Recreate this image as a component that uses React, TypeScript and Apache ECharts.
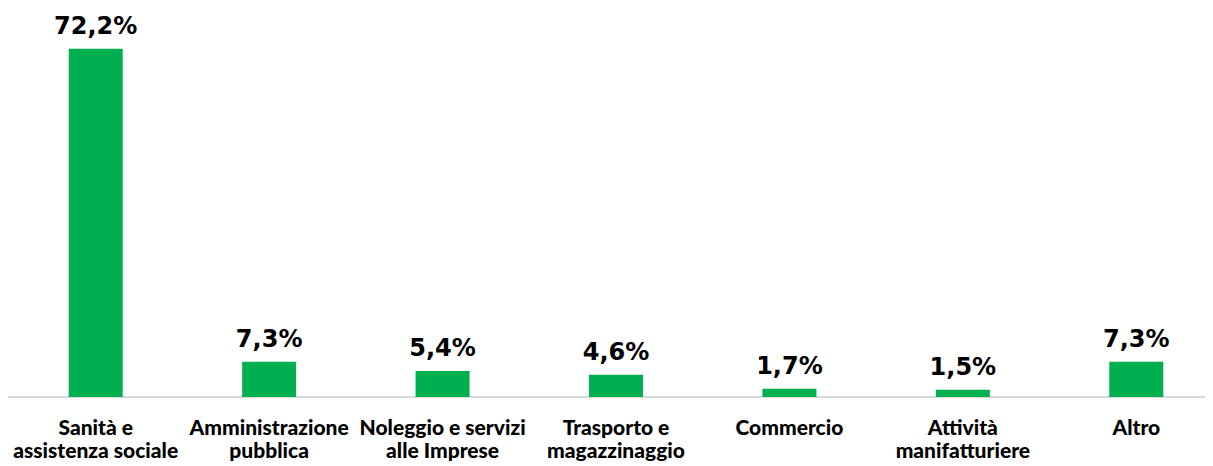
import React, { useEffect, useRef } from "react";
import * as echarts from "echarts";

const categories = [
  "Sanità e\nassistenza sociale",
  "Amministrazione\npubblica",
  "Noleggio e servizi\nalle Imprese",
  "Trasporto e\nmagazzinaggio",
  "Commercio",
  "Attività\nmanifatturiere",
  "Altro",
];
const values = [72.2, 7.3, 5.4, 4.6, 1.7, 1.5, 7.3];

export default function App() {
  const ref = useRef<HTMLDivElement>(null);
  useEffect(() => {
    if (!ref.current) return;
    const chart = echarts.init(ref.current, null, { renderer: "svg" });
    chart.setOption({
      animation: false,
      grid: { left: 9, right: 17, top: 11, bottom: 69, containLabel: false },
      xAxis: {
        type: "category",
        data: categories,
        axisLine: { show: true, lineStyle: { color: "#d9d9d9", width: 2 } },
        axisTick: { show: false },
        axisLabel: {
          interval: 0,
          margin: 18,
          color: "#000",
          fontFamily: "Lato",
          fontWeight: 900,
          fontSize: 21,
          lineHeight: 23,
        },
      },
      yAxis: {
        type: "value",
        min: 0,
        max: 80,
        show: false,
        splitLine: { show: false },
      },
      series: [
        {
          type: "bar",
          data: values,
          barWidth: 54,
          itemStyle: { color: "#00B050" },
          label: {
            show: true,
            position: "top",
            distance: 11,
            color: "#000",
            fontFamily: "DejaVu Sans",
            fontWeight: "bold",
            fontSize: 24,
            formatter: (p: any) => p.value.toFixed(1).replace(".", ",") + "%",
          },
        },
      ],
    });
    return () => chart.dispose();
  }, []);
  return (
    <div
      style={{
        width: 1213,
        height: 466,
        marginLeft: -8,
        marginTop: -8,
        overflow: "hidden",
        position: "relative",
      }}
    >
      <div ref={ref} style={{ width: 1240, height: 466 }} />
    </div>
  );
}
